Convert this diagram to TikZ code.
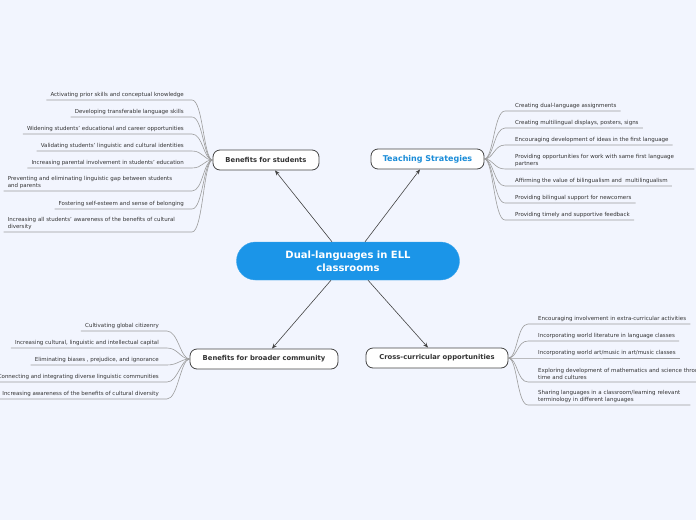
\documentclass[tikz,border=0pt]{standalone}
\usepackage{fontspec}
\setmainfont{DejaVu Sans}
\usetikzlibrary{positioning,arrows.meta}
\definecolor{bgcol}{HTML}{F2F5FE}
\definecolor{mainblue}{HTML}{1B95E8}
\definecolor{tsblue}{HTML}{1A8CD8}
\definecolor{edgegray}{HTML}{444444}
\definecolor{twiggray}{HTML}{9C9C9C}
\definecolor{leaftext}{HTML}{333333}

\begin{document}
\begin{tikzpicture}[x=1pt, y=-1pt,
  leaf/.style={font=\fontsize{5.5}{7}\selectfont, text=leaftext, inner xsep=4pt, inner ysep=2.5pt},
  leafL/.style={leaf, anchor=south east},
  leafR/.style={leaf, anchor=south west},
  multi/.style={align=left, text width=#1},
  topic/.style={draw=edgegray, line width=0.8pt, fill=white, rounded corners=7pt,
                minimum height=20pt, minimum width=#1, text=leaftext,
                font=\fontsize{6.8}{8}\selectfont\bfseries},
  twig/.style={draw=twiggray, line width=0.6pt},
  arr/.style={-{Stealth[length=5pt,width=4pt]}, draw=edgegray, line width=0.6pt}]
\path[use as bounding box, fill=bgcol] (0,0) rectangle (696,520);
\clip (0,0) rectangle (696,520);

% central topic
\node[draw=mainblue!85!white, fill=mainblue, rounded corners=19pt, minimum width=223pt,
      minimum height=38pt, text=white, align=center,
      font=\fontsize{10}{13}\selectfont\bfseries] (cen) at (348,261) {Dual-languages in ELL\\classrooms};

% main branches
\node[topic=106pt] (bs) at (266,160) {Benefits for students};
\node[topic=113pt, text=tsblue, font=\fontsize{8}{9}\selectfont\bfseries] (bt) at (427.5,159) {Teaching Strategies};
\node[topic=148pt] (bb) at (264,359) {Benefits for broader community};
\node[topic=142pt] (bc) at (437,358) {Cross-curricular opportunities};

\draw[arr] ([xshift=-16pt]cen.north) -- ([xshift=9pt]bs.south);
\draw[arr] ([xshift=17pt]cen.north) -- ([xshift=-7.5pt]bt.south);
\draw[arr] ([xshift=-17pt]cen.south) -- ([xshift=8pt]bb.north);
\draw[arr] ([xshift=20pt]cen.south) -- ([xshift=-9pt]bc.north);

% benefits for students
\node[leafL] (s1) at (188,100) {Activating prior skills and conceptual knowledge};
\node[leafL] (s2) at (188,117) {Developing transferable language skills};
\node[leafL] (s3) at (188,134) {Widening students' educational and career opportunities};
\node[leafL] (s4) at (188,151) {Validating students' linguistic and cultural identities};
\node[leafL] (s5) at (188,168) {Increasing parental involvement in students' education};
\node[leafL, multi=176pt] (s6) at (188,191) {Preventing and eliminating linguistic gap between students\\and parents};
\node[leafL] (s7) at (188,209) {Fostering self-esteem and sense of belonging};
\node[leafL, multi=176pt] (s8) at (188,232) {Increasing all students' awareness of the benefits of cultural\\diversity};
\foreach \n in {s1,s2,s3,s4,s5,s6,s7,s8}
  \draw[twig] (\n.south west) -- ([xshift=4pt]\n.south east) .. controls +(11,0) and +(-9,0) .. (bs.west);

% teaching strategies
\node[leafR] (t1) at (511,111) {Creating dual-language assignments};
\node[leafR] (t2) at (511,128) {Creating multilingual displays, posters, signs};
\node[leafR] (t3) at (511,145) {Encouraging development of ideas in the first language};
\node[leafR, multi=175pt] (t4) at (511,169) {Providing opportunities for work with same first language\\partners};
\node[leafR] (t5) at (511,186) {Affirming the value of bilingualism and\ \ multilingualism};
\node[leafR] (t6) at (511,203) {Providing bilingual support for newcomers};
\node[leafR] (t7) at (511,220) {Providing timely and supportive feedback};
\foreach \n in {t1,t2,t3,t4,t5,t6,t7}
  \draw[twig] (bt.east) .. controls +(9,0) and +(-11,0) .. ([xshift=-6pt]\n.south west) -- (\n.south east);

% benefits for broader community
\node[leafL] (b1) at (163,331) {Cultivating global citizenry};
\node[leafL] (b2) at (163,348) {Increasing cultural, linguistic and intellectual capital};
\node[leafL] (b3) at (163,365) {Eliminating biases , prejudice, and ignorance};
\node[leafL] (b4) at (163,382) {Connecting and integrating diverse linguistic communities};
\node[leafL] (b5) at (163,399) {Increasing awareness of the benefits of cultural diversity};
\foreach \n in {b1,b2,b3,b4,b5}
  \draw[twig] (\n.south west) -- ([xshift=4pt]\n.south east) .. controls +(11,0) and +(-9,0) .. (bb.west);

% cross-curricular opportunities
\node[leafR] (c1) at (534,324) {Encouraging involvement in extra-curricular activities};
\node[leafR] (c2) at (534,341) {Incorporating world literature in language classes};
\node[leafR] (c3) at (534,358) {Incorporating world art/music in art/music classes};
\node[leafR, multi=175pt] (c4) at (534,382) {Exploring development of mathematics and science through\\time and cultures};
\node[leafR, multi=148pt] (c5) at (534,405) {Sharing languages in a classroom/learning relevant\\terminology in different languages};
\foreach \n in {c1,c2,c3,c4,c5}
  \draw[twig] (bc.east) .. controls +(9,0) and +(-11,0) .. ([xshift=-6pt]\n.south west) -- (\n.south east);
\end{tikzpicture}
\end{document}
